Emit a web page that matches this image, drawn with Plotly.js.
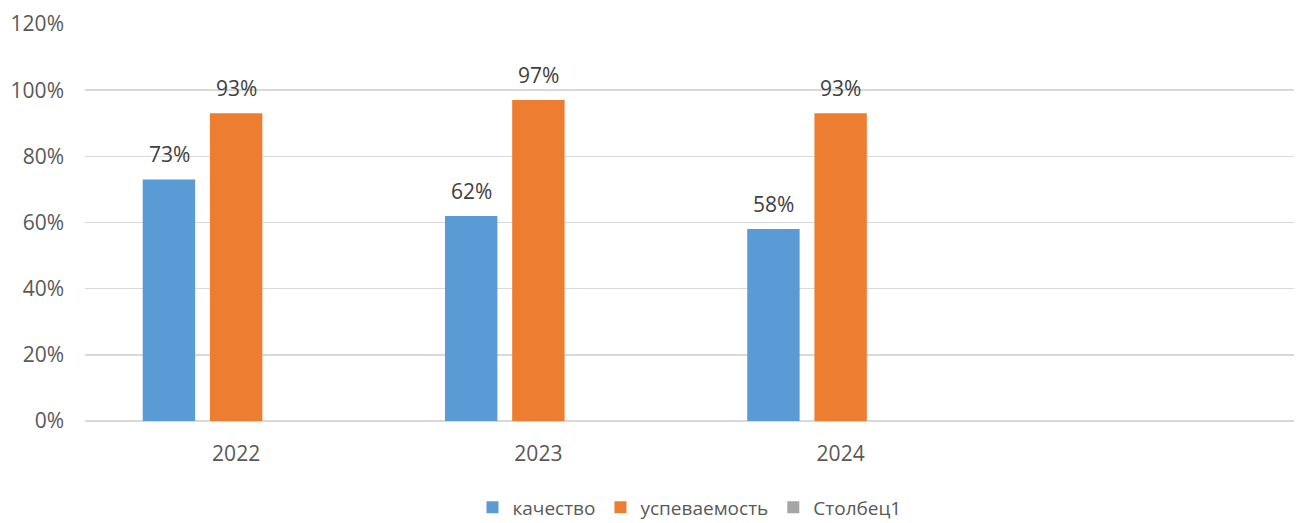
<!DOCTYPE html>
<html>
<head>
<meta charset="utf-8">
<script src="https://cdn.plot.ly/plotly-3.0.1.min.js"></script>
<style>
  html, body { margin: 0; padding: 0; background: #fff; }
  #chart { width: 1296px; height: 523px; }
</style>
</head>
<body>
<div id="chart"></div>
<script>
// categories (the fourth one is empty in the original)
const years = ['2022', '2023', '2024', ' '];
const kachestvo = [0.73, 0.62, 0.58, null];
const uspevaemost = [0.93, 0.97, 0.93, null];
const stolbec1 = [null, null, null, null];

const font = '"Open Sans", "Liberation Sans", sans-serif';

function barTrace(name, values, color) {
	return {
		type: 'bar', name: name, x: years, y: values,
		marker: {color: color},
		hoverinfo: 'skip',
	};
}

const data = [
	barTrace('качество', kachestvo, '#5b9bd5'),
	barTrace('успеваемость', uspevaemost, '#ed7d31'),
	barTrace('Столбец1', stolbec1, '#a5a5a5'),
];

// value labels above bars; x is the category index, xshift moves to the bar inside the group
const annotations = [];
function addLabels(values, shift) {
	values.forEach((v, i) => {
		if (v === null) return;
		annotations.push({
			x: i, y: v, xref: 'x', yref: 'y',
			text: Math.round(v * 100) + '%', showarrow: false,
			xshift: shift, yanchor: 'bottom', yshift: 9,
			font: {family: font, size: 21, color: '#404040'},
		});
	});
}
addLabels(kachestvo, -67);
addLabels(uspevaemost, 0);

const layout = {
	width: 1296, height: 523,
	margin: {l: 85, r: 2, t: 24, b: 102},
	paper_bgcolor: '#fff', plot_bgcolor: '#fff',
	barmode: 'group', bargap: 0.333, bargroupgap: 0.22,
	font: {family: font, size: 21, color: '#595959'},
	xaxis: {
		type: 'category', showgrid: false, zeroline: false,
		showline: false, ticks: 'outside', ticklen: 14, tickcolor: 'rgba(0,0,0,0)',
		tickfont: {size: 21, color: '#595959'},
	},
	yaxis: {
		range: [0, 1.2], dtick: 0.2, tickformat: '.0%',
		showgrid: true, gridcolor: '#d9d9d9', gridwidth: 1.5,
		zeroline: true, zerolinecolor: '#d9d9d9', zerolinewidth: 1.5,
		showline: false, ticks: '', ticklabelstandoff: 20,
		tickfont: {size: 21, color: '#595959'},
	},
	annotations: annotations,
	showlegend: true,
	legend: {
		orientation: 'h', x: 0.5, xanchor: 'center',
		yref: 'container', y: 0.03, yanchor: 'middle',
		font: {size: 19, color: '#595959'}, itemwidth: 30, traceorder: 'normal',
	},
};

Plotly.newPlot('chart', data, layout, {displayModeBar: false, staticPlot: true});
</script>
</body>
</html>
